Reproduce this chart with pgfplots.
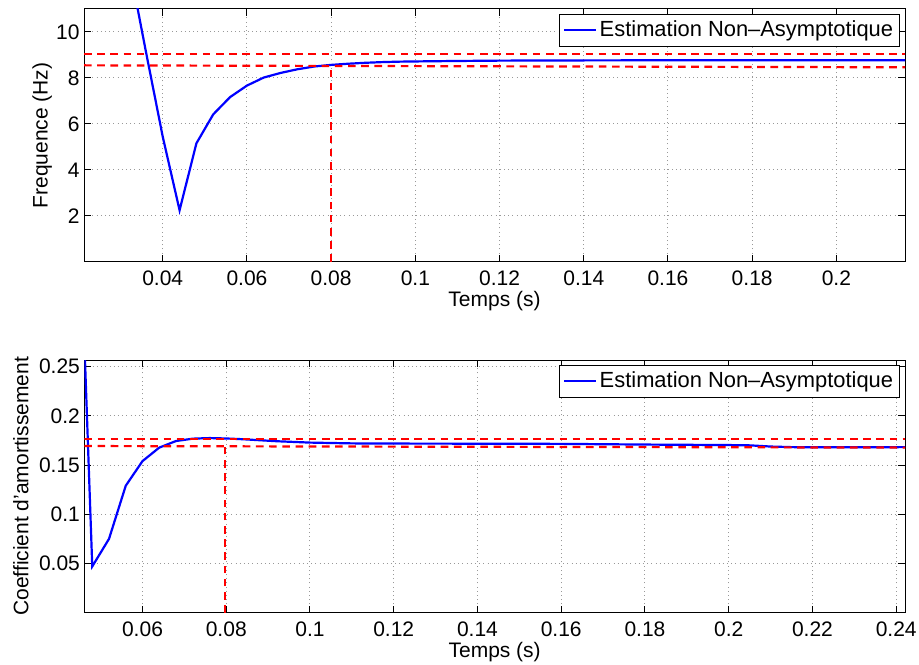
\documentclass[border=0pt]{standalone}
\usepackage{fontspec}
\setmainfont{Liberation Sans}
\usepackage{pgfplots}
\pgfplotsset{compat=1.18}
\newcommand{\myf}{\fontsize{10.5}{12.6}\selectfont}
\newcommand{\legf}{\fontsize{10.95}{13}\selectfont}
\definecolor{mblue}{RGB}{0,0,255}
\definecolor{mred}{RGB}{255,0,0}
\pgfplotsset{
  myaxis/.style={
    scale only axis,
    anchor=south west,
    axis line style={line width=0.5pt},
    every tick/.style={black, line width=0.5pt},
    major tick length=3.5pt,
    tick align=inside,
    xtick pos=both, ytick pos=both,
    grid=major,
    major grid style={black!40, line width=0.5pt, dash pattern=on 0.5pt off 1.6pt},
    tick label style={font=\myf},
    label style={font=\myf},
    /pgf/number format/assume math mode=true,
    /pgf/number format/fixed,
    /pgf/number format/precision=3,
    scaled ticks=false,
    xticklabel style={anchor=base, yshift=-12pt},
    yticklabel style={anchor=east, inner sep=0pt, xshift=-2pt},
    xlabel style={at={([yshift=-22.3pt]axis description cs:0.5,0)}, anchor=base},
    legend style={at={(1,1)}, anchor=north east, xshift=-2.5pt, yshift=-2.5pt,
      draw=black, line width=0.5pt, font=\legf, inner xsep=2pt, inner ysep=2pt,
      nodes={inner sep=1.2pt}},
    legend cell align=left,
    legend image code/.code={\draw[#1] (0pt,0pt) -- (16pt,0pt);},
    blueline/.style={mblue, line width=1.1pt},
    redline/.style={mred, line width=1.1pt, dash pattern=on 3.8pt off 2.8pt, forget plot},
  }
}
\begin{document}
\begin{tikzpicture}
\useasboundingbox (0,0) rectangle (459.5pt,332pt);
% ---------------- top ----------------
\begin{axis}[myaxis,
  at={(42pt,201pt)}, width=410.5pt, height=126.5pt,
  xmin=0.0213, xmax=0.2163, ymin=0, ymax=11,
  xtick={0.04,0.06,0.08,0.1,0.12,0.14,0.16,0.18,0.2},
  ytick={2,4,6,8,10},
  xlabel={Temps (s)}, ylabel={Frequence (Hz)},
  ylabel style={at={([xshift=-18.15pt]axis description cs:0,0.5)}, anchor=base},
]
\addplot[blueline] coordinates {
(0.032,12.95) (0.036,9.15) (0.040,5.45) (0.044,2.25) (0.048,5.16) (0.052,6.42)
(0.056,7.17) (0.060,7.67) (0.064,8.02) (0.068,8.22) (0.072,8.38) (0.076,8.50)
(0.080,8.57) (0.084,8.62) (0.088,8.66) (0.092,8.69) (0.096,8.71) (0.100,8.72)
(0.110,8.74) (0.120,8.755) (0.140,8.765) (0.160,8.77) (0.180,8.77) (0.200,8.77) (0.2163,8.77)
};
\addlegendentry{Estimation Non–Asymptotique}
\addplot[redline] coordinates {(0.0213,9.03) (0.2163,9.03)};
\addplot[redline] coordinates {(0.0213,8.55) (0.2163,8.465)};
\addplot[redline] coordinates {(0.08,0) (0.08,8.55)};
\end{axis}
% ---------------- bottom ----------------
\begin{axis}[myaxis,
  at={(42.15pt,25.65pt)}, width=410.35pt, height=126.35pt,
  xmin=0.0461, xmax=0.2421, ymin=0, ymax=0.2567,
  xtick={0.06,0.08,0.1,0.12,0.14,0.16,0.18,0.2,0.22,0.24},
  ytick={0.05,0.1,0.15,0.2,0.25},
  xlabel={Temps (s)}, ylabel={Coefficient d'amortissement},
  ylabel style={at={([xshift=-28pt]axis description cs:0,0.5)}, anchor=base},
]
\addplot[blueline] coordinates {
(0.044,0.53) (0.048,0.047) (0.052,0.075) (0.056,0.129) (0.060,0.154) (0.064,0.1677)
(0.068,0.1744) (0.072,0.1768) (0.076,0.1774) (0.080,0.1770) (0.084,0.1762) (0.088,0.1752)
(0.092,0.1742) (0.096,0.1735) (0.100,0.1728) (0.110,0.1720) (0.120,0.1718) (0.140,0.1717)
(0.160,0.1715) (0.180,0.1708) (0.200,0.1703) (0.205,0.1700) (0.210,0.1688) (0.215,0.1682)
(0.220,0.1680) (0.230,0.1680) (0.2421,0.1682)
};
\addlegendentry{Estimation Non–Asymptotique}
\addplot[redline] coordinates {(0.0461,0.1764) (0.2421,0.1764)};
\addplot[redline] coordinates {(0.0461,0.1693) (0.2421,0.1677)};
\addplot[redline] coordinates {(0.0797,0) (0.0797,0.1693)};
\end{axis}
\end{tikzpicture}
\end{document}
